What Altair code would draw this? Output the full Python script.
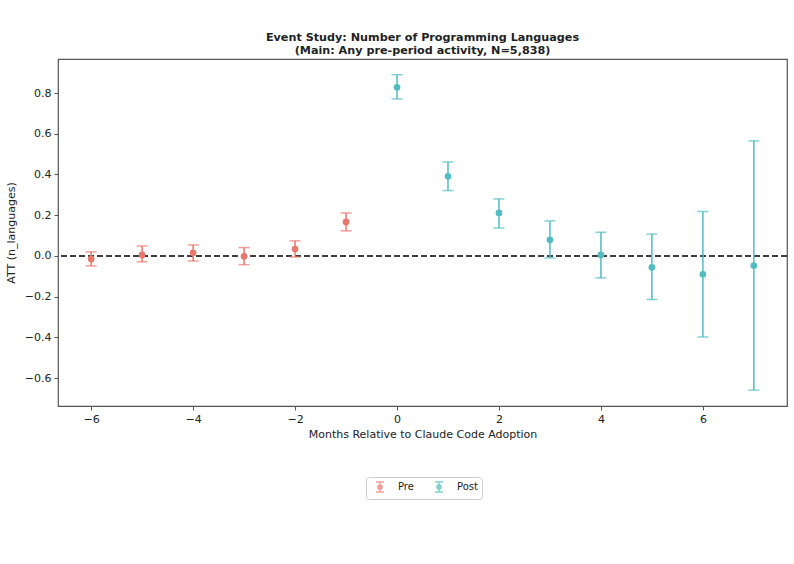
import altair as alt
import pandas as pd

# Event-study estimates: months relative to adoption, ATT and 95% CI bounds
rel_month = [-6, -5, -4, -3, -2, -1, 0, 1, 2, 3, 4, 5, 6, 7]
att = [-0.015, 0.005, 0.015, -0.002, 0.034, 0.167, 0.828, 0.391, 0.211, 0.079, 0.005, -0.056, -0.090, -0.047]
ci_low = [-0.049, -0.029, -0.025, -0.043, -0.005, 0.123, 0.771, 0.321, 0.137, -0.010, -0.108, -0.214, -0.398, -0.659]
ci_high = [0.020, 0.049, 0.054, 0.041, 0.074, 0.211, 0.890, 0.461, 0.280, 0.172, 0.116, 0.107, 0.218, 0.565]
period = ["Pre" if m < 0 else "Post" for m in rel_month]

df = pd.DataFrame({
    "rel": rel_month, "att": att, "lo": ci_low, "hi": ci_high, "period": period,
})

PRE_COLOR = "#E8786C"
POST_COLOR = "#52BCC0"
FONT = "DejaVu Sans"

minus = "replace(datum.label, '-', '\u2212')"

x = alt.X("rel:Q",
          scale=alt.Scale(domain=[-6.65, 7.65], nice=False, zero=False),
          axis=alt.Axis(values=[-6, -4, -2, 0, 2, 4, 6], format="d", labelExpr=minus,
                        title="Months Relative to Claude Code Adoption", grid=False))
y_axis = alt.Axis(values=[-0.6, -0.4, -0.2, 0.0, 0.2, 0.4, 0.6, 0.8], format=".1f",
                  labelExpr=minus, title="ATT (n_languages)", grid=False)
y_scale = alt.Scale(domain=[-0.737, 0.967], nice=False, zero=False)

color = alt.Color("period:N",
                  scale=alt.Scale(domain=["Pre", "Post"], range=[PRE_COLOR, POST_COLOR]),
                  legend=alt.Legend(
                      title=None, orient="none", direction="horizontal",
                      legendX=308, legendY=418,
                      symbolType="M-0.8,-1H0.8M0,-1V1M-0.8,1H0.8M-0.42,0A0.42,0.42 0 1,0 0.42,0A0.42,0.42 0 1,0 -0.42,0Z",
                      symbolSize=100, symbolStrokeWidth=1.5, symbolFillColor=None,
                      labelFontSize=10, labelFont=FONT, labelColor="#222",
                      columnPadding=15, padding=4, strokeColor="#cccccc",
                      fillColor="white", cornerRadius=3, labelOffset=12,
                      symbolOffset=4))

base = alt.Chart(df)

zero_line = alt.Chart(pd.DataFrame({"z": [0.0]})).mark_rule(
    color="black", strokeWidth=1.5, strokeDash=[6, 3]
).encode(y=alt.Y("z:Q", scale=y_scale, axis=y_axis))

bars = base.mark_rule(strokeWidth=1.5).encode(
    x=x, y=alt.Y("lo:Q", scale=y_scale, axis=y_axis), y2="hi:Q", color=color)

caps_lo = base.mark_tick(orient="horizontal", size=11, thickness=1.5).encode(
    x=x, y=alt.Y("lo:Q", scale=y_scale, axis=y_axis), color=color)
caps_hi = base.mark_tick(orient="horizontal", size=11, thickness=1.5).encode(
    x=x, y=alt.Y("hi:Q", scale=y_scale, axis=y_axis), color=color)

points = base.mark_circle(size=45, opacity=1).encode(
    x=x, y=alt.Y("att:Q", scale=y_scale, axis=y_axis), color=color)

chart = alt.layer(zero_line, bars, caps_lo, caps_hi, points).properties(
    width=729, height=347,
    padding={"left": 58, "top": 59, "right": 7, "bottom": 158},
    autosize=alt.AutoSizeParams(type="none"),
    title=alt.Title(["Event Study: Number of Programming Languages",
                     "(Main: Any pre-period activity, N=5,838)"],
                    fontSize=11.2, fontWeight="bold", font=FONT, color="#222",
                    anchor="middle", lineHeight=13, offset=3),
).configure_view(
    stroke="#555555", strokeWidth=1.2
).configure_axis(
    domain=False, tickColor="#555555", tickSize=4, tickWidth=1,
    labelFont=FONT, labelFontSize=11, labelColor="#222", labelPadding=3,
    titleFont=FONT, titleFontSize=11, titleColor="#222", titleFontWeight="normal",
).configure_axisX(titlePadding=4).configure_axisY(titlePadding=8)

chart.save("out.html", embed_options={"renderer": "svg", "actions": False})
